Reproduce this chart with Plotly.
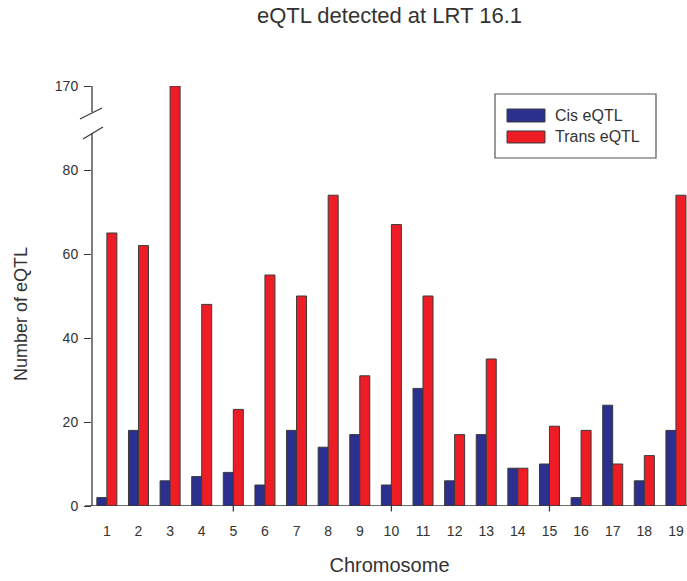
import plotly.graph_objects as go

chromosomes = list(range(1, 20))
cis_eqtl = [2, 18, 6, 7, 8, 5, 18, 14, 17, 5, 28, 6, 17, 9, 10, 2, 24, 6, 18]
trans_eqtl = [65, 62, 170, 48, 23, 55, 50, 74, 31, 67, 50, 17, 35, 9, 19, 18, 10, 12, 74]
lower_ticks = [0, 20, 40, 60, 80]
upper_ticks = [170]

BLUE = "#2b2f8e"
RED = "#ee1c25"
EDGE = "#3a3a3a"
TXT = "#333333"
FONT = "Liberation Sans, Arial, sans-serif"

# broken y axis: lower panel 0..91.4, upper panel 161.4..170, same scale
BREAK = 0.9143
LOW_MAX = 91.43
UP_MIN = 161.43
UP_MAX = 170

fig = go.Figure()
for yax in ("y", "y2"):
    fig.add_trace(go.Bar(x=chromosomes, y=cis_eqtl, name="Cis eQTL", yaxis=yax,
                         marker=dict(color=BLUE, line=dict(color=EDGE, width=1)),
                         offsetgroup="cis", showlegend=False))
    fig.add_trace(go.Bar(x=chromosomes, y=trans_eqtl, name="Trans eQTL", yaxis=yax,
                         marker=dict(color=RED, line=dict(color=EDGE, width=1)),
                         offsetgroup="trans", showlegend=False))

shapes = []
line = dict(color=EDGE, width=1.3)
# axis segments
shapes.append(dict(type="line", xref="paper", yref="y", x0=0, x1=0, y0=0, y1=88.8, line=line))
shapes.append(dict(type="line", xref="paper", yref="y2", x0=0, x1=0, y0=163.8, y1=UP_MAX, line=line))
shapes.append(dict(type="line", xref="paper", yref="y", x0=-0.0118, x1=1, y0=0, y1=0, line=line))
# break marks
shapes.append(dict(type="line", xref="paper", yref="paper", x0=-0.0202, y0=0.9214, x1=0.0168, y1=0.9476, line=line))
shapes.append(dict(type="line", xref="paper", yref="paper", x0=-0.0151, y0=0.8738, x1=0.0185, y1=0.9024, line=line))
# x ticks at every fifth chromosome
for c in (5, 10, 15):
    shapes.append(dict(type="line", xref="x", yref="paper", x0=c, x1=c, y0=0, y1=-0.013, line=line))

# legend box
shapes.append(dict(type="rect", xref="paper", yref="paper", x0=0.6773, x1=0.9479, y0=0.8286, y1=0.981,
                   line=dict(color="#555555", width=1.2), fillcolor="white"))
shapes.append(dict(type="rect", xref="paper", yref="paper", x0=0.6975, x1=0.7613, y0=0.9143, y1=0.9452,
                   line=dict(color=EDGE, width=1), fillcolor=BLUE))
shapes.append(dict(type="rect", xref="paper", yref="paper", x0=0.6975, x1=0.7613, y0=0.8643, y1=0.8929,
                   line=dict(color=EDGE, width=1), fillcolor=RED))

annotations = [
    dict(text="Cis eQTL", xref="paper", yref="paper", x=0.7745, y=0.9286, xanchor="left", yanchor="middle",
         showarrow=False, font=dict(family=FONT, size=16, color=TXT)),
    dict(text="Trans eQTL", xref="paper", yref="paper", x=0.7745, y=0.8786, xanchor="left", yanchor="middle",
         showarrow=False, font=dict(family=FONT, size=16, color=TXT)),
]

fig.update_layout(
    width=687, height=581,
    margin=dict(l=92, r=0, t=86, b=75),
    paper_bgcolor="white", plot_bgcolor="white",
    barmode="group", bargap=0.367, bargroupgap=0,
    font=dict(family=FONT, size=14, color=TXT),
    title=dict(text="eQTL detected at LRT 16.1", x=0.5, xanchor="center", xref="paper",
               y=1 - 15 / 581, yanchor="middle", yref="container",
               font=dict(family=FONT, size=22, color=TXT)),
    xaxis=dict(range=[0.53, 19.35], tickmode="array", tickvals=chromosomes,
               ticktext=[str(c) for c in chromosomes], ticks="", ticklabelstandoff=15,
               showgrid=False, zeroline=False, showline=False, tickfont=dict(size=14, color=TXT),
               title=dict(text="Chromosome", standoff=19, font=dict(size=20, color=TXT))),
    yaxis=dict(domain=[0, BREAK], range=[0, LOW_MAX], tickmode="array", tickvals=lower_ticks,
               ticks="outside", ticklen=7, tickwidth=1.3, tickcolor=EDGE, ticklabelstandoff=3,
               showgrid=False, zeroline=False, showline=False, tickfont=dict(size=14, color=TXT),
               title=dict(text="Number of eQTL", standoff=30, font=dict(size=18, color=TXT))),
    yaxis2=dict(domain=[BREAK, 1], range=[UP_MIN, UP_MAX], tickmode="array", tickvals=upper_ticks,
                ticks="outside", ticklen=7, tickwidth=1.3, tickcolor=EDGE, ticklabelstandoff=3,
                showgrid=False, zeroline=False, showline=False, tickfont=dict(size=14, color=TXT),
                anchor="x"),
    shapes=shapes,
    annotations=annotations,
)

fig.write_html("out.html")
